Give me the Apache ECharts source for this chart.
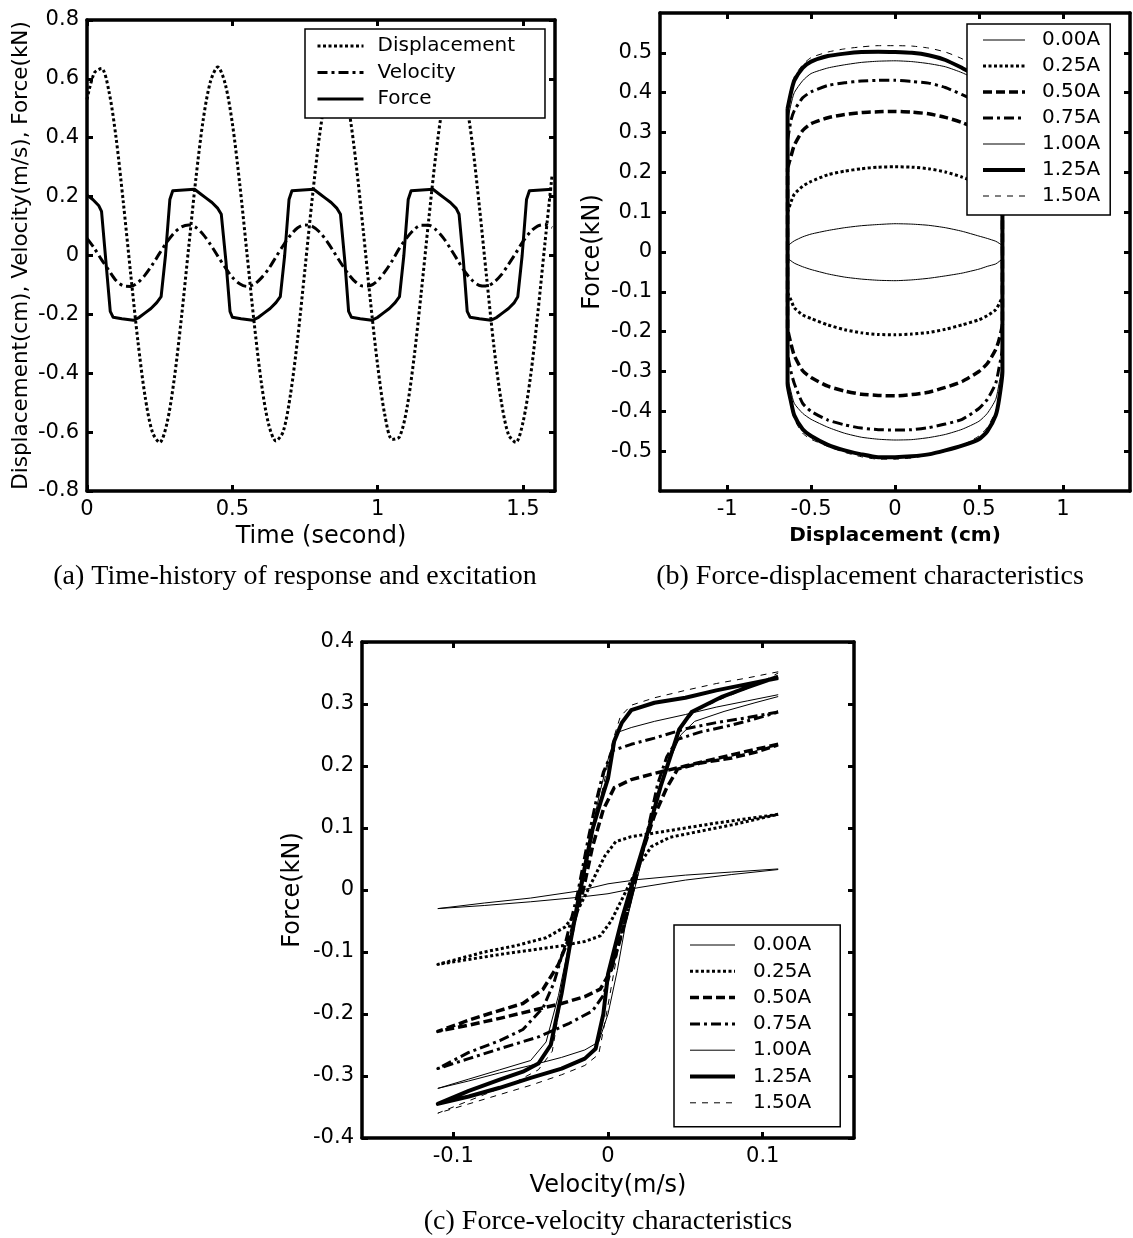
<!DOCTYPE html>
<html><head><meta charset="utf-8">
<script src="https://cdn.jsdelivr.net/npm/echarts@6/dist/echarts.min.js"></script>
<style>html,body{margin:0;padding:0;background:#fff}#c{width:1133px;height:1238px}</style>
</head><body><div id="c"></div><script>
// ---------- (a) time history ----------
const timeA = [0,0.025,0.05,0.075,0.1,0.125,0.15,0.175,0.2,0.225,0.25,0.275,0.3,0.325,0.35,0.375,0.4,0.425,0.45,0.475,0.5,0.525,0.55,0.575,0.6,0.625,0.65,0.675,0.7,0.725,0.75,0.775,0.8,0.825,0.85,0.875,0.9,0.925,0.95,0.975,1.0,1.025,1.05,1.075,1.1,1.125,1.15,1.175,1.2,1.225,1.25,1.275,1.3,1.325,1.35,1.375,1.4,1.425,1.45,1.475,1.5,1.525,1.55,1.575,1.6];
const dispA = [0.53,0.62,0.635,0.56,0.4,0.18,-0.06,-0.29,-0.48,-0.6,-0.635,-0.57,-0.42,-0.21,0.03,0.265,0.463,0.592,0.64,0.585,0.449,0.247,0.01,-0.228,-0.434,-0.574,-0.63,-0.598,-0.472,-0.279,-0.044,0.195,0.408,0.559,0.63,0.61,0.501,0.318,0.088,-0.154,-0.374,-0.544,-0.625,-0.616,-0.522,-0.348,-0.124,0.116,0.342,0.518,0.618,0.627,0.544,0.385,0.165,-0.077,-0.31,-0.495,-0.608,-0.635,-0.566,-0.417,-0.204,0.038,0.273];
const velA = [0.058,0.025,-0.014,-0.05,-0.085,-0.103,-0.105,-0.092,-0.066,-0.031,0.008,0.046,0.077,0.097,0.104,0.095,0.071,0.037,-0.002,-0.04,-0.074,-0.096,-0.105,-0.098,-0.076,-0.045,-0.005,0.034,0.069,0.094,0.104,0.099,0.08,0.049,0.011,-0.028,-0.064,-0.091,-0.104,-0.102,-0.085,-0.055,-0.018,0.025,0.06,0.088,0.103,0.103,0.088,0.061,0.024,-0.016,-0.055,-0.084,-0.102,-0.104,-0.091,-0.066,-0.03,0.008,0.048,0.08,0.1,0.105,0.095];
const timeF = [0,0.02,0.04,0.05,0.065,0.08,0.09,0.12,0.16,0.18,0.2,0.22,0.24,0.255,0.27,0.285,0.295,0.37,0.39,0.41,0.43,0.45,0.462,0.478,0.492,0.5,0.53,0.57,0.59,0.61,0.63,0.65,0.665,0.68,0.695,0.705,0.78,0.8,0.82,0.84,0.86,0.872,0.887,0.9,0.91,0.94,0.98,1.0,1.02,1.04,1.06,1.075,1.09,1.105,1.115,1.19,1.21,1.23,1.25,1.27,1.28,1.295,1.308,1.318,1.35,1.39,1.41,1.43,1.45,1.47,1.482,1.497,1.512,1.522,1.6];
const forceA = [0.205,0.19,0.17,0.15,-0.02,-0.19,-0.21,-0.215,-0.22,-0.21,-0.195,-0.18,-0.16,-0.14,0.0,0.19,0.22,0.225,0.21,0.195,0.18,0.16,0.14,-0.02,-0.19,-0.21,-0.215,-0.22,-0.21,-0.195,-0.18,-0.16,-0.14,0.0,0.19,0.22,0.225,0.21,0.195,0.18,0.16,0.14,-0.02,-0.19,-0.21,-0.215,-0.22,-0.21,-0.195,-0.18,-0.16,-0.14,0.0,0.19,0.22,0.225,0.21,0.195,0.18,0.16,0.14,-0.02,-0.19,-0.21,-0.215,-0.22,-0.21,-0.195,-0.18,-0.16,-0.14,0.0,0.19,0.22,0.225];
const ticksAx = [0,0.5,1,1.5];
const ticksAy = [-0.8,-0.6,-0.4,-0.2,0,0.2,0.4,0.6,0.8];

// ---------- (b) force-displacement ----------
const currents = ['0.00A','0.25A','0.50A','0.75A','1.00A','1.25A','1.50A'];
const xb = [-0.64,-0.62,-0.6,-0.55,-0.5,-0.4,-0.3,-0.2,-0.1,0,0.1,0.2,0.3,0.4,0.5,0.55,0.6,0.62,0.64];
const fdTop000 = [0.015,0.022,0.028,0.038,0.045,0.054,0.061,0.066,0.069,0.071,0.07,0.067,0.061,0.052,0.04,0.034,0.027,0.022,0.015];
const fdBot000 = [-0.015,-0.022,-0.028,-0.037,-0.044,-0.055,-0.063,-0.068,-0.071,-0.072,-0.07,-0.066,-0.06,-0.053,-0.043,-0.036,-0.03,-0.024,-0.016];
const fdTop025 = [0.1,0.125,0.145,0.165,0.177,0.194,0.203,0.209,0.213,0.214,0.213,0.209,0.201,0.188,0.172,0.162,0.15,0.14,0.12];
const fdBot025 = [-0.1,-0.12,-0.14,-0.158,-0.167,-0.183,-0.195,-0.203,-0.207,-0.208,-0.206,-0.202,-0.194,-0.183,-0.17,-0.16,-0.145,-0.13,-0.11];
const fdTop050 = [0.21,0.24,0.268,0.305,0.322,0.337,0.345,0.35,0.352,0.353,0.351,0.347,0.338,0.325,0.307,0.295,0.28,0.26,0.23];
const fdBot050 = [-0.19,-0.23,-0.26,-0.298,-0.315,-0.337,-0.349,-0.357,-0.36,-0.361,-0.358,-0.352,-0.34,-0.325,-0.3,-0.28,-0.245,-0.22,-0.18];
const fdTop075 = [0.28,0.33,0.355,0.387,0.402,0.418,0.425,0.429,0.431,0.431,0.428,0.424,0.413,0.395,0.375,0.36,0.345,0.33,0.30];
const fdBot075 = [-0.25,-0.3,-0.33,-0.38,-0.4,-0.422,-0.434,-0.442,-0.446,-0.447,-0.446,-0.441,-0.432,-0.42,-0.393,-0.37,-0.33,-0.29,-0.24];
const fdTop100 = [0.33,0.37,0.4,0.43,0.448,0.462,0.47,0.476,0.479,0.48,0.478,0.473,0.465,0.45,0.43,0.418,0.405,0.39,0.36];
const fdBot100 = [-0.31,-0.35,-0.38,-0.405,-0.42,-0.44,-0.455,-0.465,-0.47,-0.472,-0.471,-0.466,-0.458,-0.445,-0.425,-0.405,-0.37,-0.33,-0.28];
const fdTop125 = [0.36,0.4,0.43,0.462,0.478,0.492,0.498,0.502,0.503,0.502,0.5,0.494,0.482,0.462,0.44,0.43,0.42,0.41,0.38];
const fdBot125 = [-0.33,-0.375,-0.41,-0.445,-0.462,-0.484,-0.498,-0.508,-0.515,-0.515,-0.513,-0.508,-0.498,-0.486,-0.47,-0.45,-0.41,-0.37,-0.3];
const fdTop150 = [0.37,0.41,0.44,0.47,0.488,0.502,0.51,0.515,0.518,0.518,0.517,0.512,0.502,0.485,0.46,0.445,0.43,0.42,0.39];
const fdBot150 = [-0.34,-0.385,-0.42,-0.455,-0.47,-0.488,-0.503,-0.514,-0.52,-0.52,-0.517,-0.51,-0.5,-0.485,-0.462,-0.44,-0.4,-0.36,-0.3];
const ticksBx = [-1,-0.5,0,0.5,1];
const ticksBy = [-0.5,-0.4,-0.3,-0.2,-0.1,0,0.1,0.2,0.3,0.4,0.5];

// ---------- (c) force-velocity ----------
const fv000 = [[0.11,0.034],[0.08,0.029],[0.05,0.024],[0.02,0.017],[0.0,0.01],[-0.02,-0.002],[-0.05,-0.013],[-0.08,-0.021],[-0.11,-0.03],
  [-0.08,-0.025],[-0.05,-0.019],[-0.02,-0.012],[0.0,-0.006],[0.02,0.004],[0.05,0.016],[0.08,0.025],[0.11,0.033]];
const fv025 = [[0.11,0.122],[0.09,0.115],[0.07,0.108],[0.05,0.1],[0.03,0.092],[0.015,0.086],[0.005,0.078],[-0.002,0.055],[-0.008,0.025],[-0.013,0.0],[-0.02,-0.035],[-0.028,-0.06],[-0.04,-0.077],[-0.06,-0.09],[-0.08,-0.1],[-0.11,-0.12],
  [-0.09,-0.112],[-0.07,-0.104],[-0.05,-0.097],[-0.03,-0.09],[-0.015,-0.083],[-0.005,-0.074],[0.002,-0.05],[0.008,-0.02],[0.013,0.005],[0.02,0.04],[0.028,0.07],[0.04,0.085],[0.06,0.095],[0.08,0.105],[0.11,0.122]];
const fv050 = [[0.11,0.235],[0.09,0.224],[0.07,0.212],[0.05,0.2],[0.03,0.188],[0.015,0.178],[0.004,0.165],[-0.003,0.13],[-0.01,0.07],[-0.016,0.0],[-0.024,-0.07],[-0.032,-0.12],[-0.042,-0.16],[-0.055,-0.183],[-0.075,-0.198],[-0.09,-0.21],[-0.11,-0.228],
  [-0.09,-0.218],[-0.07,-0.207],[-0.05,-0.195],[-0.03,-0.183],[-0.015,-0.172],[-0.005,-0.16],[0.002,-0.13],[0.009,-0.07],[0.016,0.0],[0.022,0.06],[0.03,0.12],[0.038,0.165],[0.045,0.195],[0.06,0.205],[0.08,0.213],[0.095,0.222],[0.11,0.234]];
const fv075 = [[0.11,0.287],[0.09,0.278],[0.07,0.27],[0.05,0.26],[0.03,0.245],[0.015,0.235],[0.003,0.225],[-0.003,0.19],[-0.008,0.14],[-0.013,0.08],[-0.02,-0.01],[-0.028,-0.09],[-0.035,-0.15],[-0.042,-0.19],[-0.055,-0.225],[-0.07,-0.243],[-0.09,-0.262],[-0.11,-0.288],
  [-0.09,-0.272],[-0.07,-0.256],[-0.045,-0.237],[-0.025,-0.215],[-0.01,-0.195],[-0.003,-0.17],[0.003,-0.12],[0.01,-0.06],[0.019,0.028],[0.026,0.1],[0.032,0.17],[0.038,0.215],[0.045,0.243],[0.06,0.255],[0.08,0.266],[0.095,0.276],[0.11,0.287]];
const fv100 = [[0.11,0.315],[0.09,0.305],[0.07,0.295],[0.05,0.283],[0.03,0.272],[0.015,0.262],[0.007,0.255],[0.001,0.22],[-0.005,0.16],[-0.011,0.09],[-0.018,0.0],[-0.025,-0.085],[-0.032,-0.17],[-0.04,-0.245],[-0.05,-0.275],[-0.07,-0.29],[-0.09,-0.305],[-0.11,-0.32],
  [-0.09,-0.308],[-0.07,-0.295],[-0.05,-0.283],[-0.03,-0.27],[-0.015,-0.258],[-0.006,-0.245],[0.0,-0.2],[0.006,-0.13],[0.011,-0.06],[0.018,0.01],[0.026,0.09],[0.033,0.16],[0.04,0.21],[0.047,0.25],[0.056,0.272],[0.075,0.288],[0.095,0.302],[0.11,0.312]];
const fv125 = [[0.11,0.342],[0.09,0.332],[0.07,0.322],[0.05,0.31],[0.03,0.302],[0.015,0.29],[0.009,0.27],[0.004,0.24],[0.0,0.18],[-0.005,0.14],[-0.01,0.098],[-0.018,0.0],[-0.024,-0.08],[-0.03,-0.167],[-0.037,-0.25],[-0.045,-0.28],[-0.055,-0.293],[-0.07,-0.306],[-0.09,-0.324],[-0.11,-0.345],
  [-0.09,-0.333],[-0.07,-0.319],[-0.05,-0.303],[-0.03,-0.288],[-0.015,-0.272],[-0.008,-0.256],[-0.003,-0.2],[0.0,-0.136],[0.009,-0.047],[0.017,0.022],[0.027,0.104],[0.034,0.167],[0.039,0.205],[0.046,0.259],[0.054,0.287],[0.074,0.312],[0.09,0.327],[0.11,0.344]];
const fv150 = [[0.11,0.352],[0.09,0.342],[0.07,0.333],[0.05,0.322],[0.03,0.31],[0.015,0.298],[0.008,0.28],[0.003,0.24],[-0.002,0.18],[-0.009,0.1],[-0.017,0.0],[-0.024,-0.09],[-0.03,-0.17],[-0.036,-0.26],[-0.045,-0.29],[-0.06,-0.31],[-0.08,-0.33],[-0.11,-0.36],
  [-0.09,-0.345],[-0.07,-0.33],[-0.05,-0.315],[-0.03,-0.298],[-0.015,-0.283],[-0.006,-0.265],[-0.001,-0.2],[0.004,-0.13],[0.01,-0.05],[0.018,0.02],[0.027,0.1],[0.034,0.17],[0.04,0.215],[0.047,0.26],[0.056,0.288],[0.075,0.31],[0.095,0.33],[0.11,0.35]];
const ticksCx = [-0.1,0,0.1];
const ticksCy = [-0.4,-0.3,-0.2,-0.1,0,0.1,0.2,0.3,0.4];

// ---------- styles ----------
const FONT = 'DejaVu Sans';
const dotted = [3, 2.5], dashed = [9, 4], dashdot = [10, 4, 3, 4], thinDash = [6, 6];
const curStyles = {
  '0.00A': {width: 1, type: 'solid'},
  '0.25A': {width: 3, type: dotted},
  '0.50A': {width: 3.5, type: dashed},
  '0.75A': {width: 3, type: dashdot},
  '1.00A': {width: 1, type: 'solid'},
  '1.25A': {width: 4, type: 'solid'},
  '1.50A': {width: 1, type: thinDash}
};
const fmt = v => String(Math.round(v * 100) / 100);

function mkAxis(grid, pos, min, max, vals, showLabel, name, nameGap, nameSize, bold) {
  return {
    type: 'value', gridIndex: grid, position: pos, min: min, max: max,
    axisLine: {show: true, onZero: false, lineStyle: {color: '#000', width: 3.5}},
    axisTick: {show: true, inside: true, length: 6, lineStyle: {color: '#000', width: 3}, customValues: vals},
    axisLabel: {show: showLabel, customValues: vals, margin: 8, color: '#000', fontFamily: FONT, fontSize: 21, formatter: fmt},
    splitLine: {show: false},
    name: name || '', nameLocation: 'middle', nameGap: nameGap || 0,
    nameTextStyle: {color: '#000', fontFamily: FONT, fontSize: nameSize || 24, fontWeight: bold ? 'bold' : 'normal'}
  };
}

const xAxes = [
  mkAxis(0, 'bottom', 0, 1.61, ticksAx, true, 'Time (second)', 34, 24),
  mkAxis(0, 'top', 0, 1.61, ticksAx, false),
  mkAxis(1, 'bottom', -1.4, 1.4, ticksBx, true, 'Displacement (cm)', 35, 20, true),
  mkAxis(1, 'top', -1.4, 1.4, ticksBx, false),
  mkAxis(2, 'bottom', -0.159, 0.159, ticksCx, true, 'Velocity(m/s)', 36, 24),
  mkAxis(2, 'top', -0.159, 0.159, ticksCx, false)
];
const yAxes = [
  mkAxis(0, 'left', -0.8, 0.8, ticksAy, true, 'Displacement(cm), Velocity(m/s), Force(kN)', 55, 21.5),
  mkAxis(0, 'right', -0.8, 0.8, ticksAy, false),
  mkAxis(1, 'left', -0.6, 0.6, ticksBy, true, 'Force(kN)', 55, 24),
  mkAxis(1, 'right', -0.6, 0.6, ticksBy, false),
  mkAxis(2, 'left', -0.4, 0.4, ticksCy, true, 'Force(kN)', 57, 24),
  mkAxis(2, 'right', -0.4, 0.4, ticksCy, false)
];

function line(name, data, xi, yi, ls, smooth) {
  return {
    type: 'line', name: name, data: data, xAxisIndex: xi, yAxisIndex: yi,
    symbol: 'none', showSymbol: false, smooth: smooth || false, animation: false,
    lineStyle: {color: '#000', width: ls.width, type: ls.type, cap: 'butt', join: 'round'},
    itemStyle: {color: '#000'}, z: 3
  };
}
function loop(top, bot) {
  const pts = xb.map((x, i) => [x, top[i]]);
  for (let i = xb.length - 1; i >= 0; i--) pts.push([xb[i], bot[i]]);
  pts.push([xb[0], top[0]]);
  return pts;
}

const fdTops = [fdTop000, fdTop025, fdTop050, fdTop075, fdTop100, fdTop125, fdTop150];
const fdBots = [fdBot000, fdBot025, fdBot050, fdBot075, fdBot100, fdBot125, fdBot150];
const fvs = [fv000, fv025, fv050, fv075, fv100, fv125, fv150];

const series = [
  line('Displacement', timeA.map((t, i) => [t, dispA[i]]), 0, 0, {width: 3, type: dotted}, 0.3),
  line('Velocity', timeA.map((t, i) => [t, velA[i]]), 0, 0, {width: 3, type: dashdot}, 0.3),
  line('Force', timeF.map((t, i) => [t, forceA[i]]), 0, 0, {width: 3, type: 'solid'})
];
currents.forEach((c, k) => series.push(line(c, loop(fdTops[k], fdBots[k]), 2, 2, curStyles[c], 0.2)));
currents.forEach((c, k) => series.push(line(c, fvs[k], 4, 4, curStyles[c])));

function mkLegend(names, left, top, itemW, gap, pad, txtPad, fs) {
  return {
    data: names, orient: 'vertical', left: left, top: top, itemWidth: itemW, itemHeight: 20,
    itemGap: gap, padding: pad, borderColor: '#000', borderWidth: 1.5, backgroundColor: '#fff',
    selectedMode: false, z: 10,
    itemStyle: {color: 'rgba(0,0,0,0)', borderWidth: 0, opacity: 0},
    lineStyle: {width: 'inherit', type: 'inherit', color: '#000', cap: 'butt'},
    textStyle: {color: '#000', fontFamily: FONT, fontSize: fs, lineHeight: 20, padding: txtPad}
  };
}

const option = {
  backgroundColor: '#fff',
  animation: false,
  grid: [
    {left: 87, top: 20, width: 468, height: 471, outerBoundsMode: 'none', containLabel: false},
    {left: 660, top: 13, width: 470, height: 478, outerBoundsMode: 'none', containLabel: false},
    {left: 362, top: 642, width: 492, height: 496, outerBoundsMode: 'none', containLabel: false}
  ],
  xAxis: xAxes,
  yAxis: yAxes,
  legend: [
    mkLegend(['Displacement', 'Velocity', 'Force'], 305, 29, 46, 6.5, [7, 30, 9, 11], [0, 0, 0, 9], 20),
    mkLegend(currents, 967, 24, 42, 6, [6, 10, 9, 14], [0, 0, 0, 12], 20),
    mkLegend(currents, 674, 925, 45, 6.3, [10, 29, 14, 14], [0, 0, 0, 13], 20)
  ],
  graphic: [
    {type: 'text', x: 295, y: 577, style: {text: '(a) Time-history of response and excitation', fontFamily: 'Liberation Serif', fontSize: 28, fill: '#000', align: 'center', verticalAlign: 'middle'}},
    {type: 'text', x: 870, y: 577, style: {text: '(b) Force-displacement characteristics', fontFamily: 'Liberation Serif', fontSize: 28, fill: '#000', align: 'center', verticalAlign: 'middle'}},
    {type: 'text', x: 608, y: 1222, style: {text: '(c) Force-velocity characteristics', fontFamily: 'Liberation Serif', fontSize: 28, fill: '#000', align: 'center', verticalAlign: 'middle'}}
  ],
  series: series
};

const chart = echarts.init(document.getElementById('c'), null, {renderer: 'canvas'});
chart.setOption(option);
</script></body></html>
